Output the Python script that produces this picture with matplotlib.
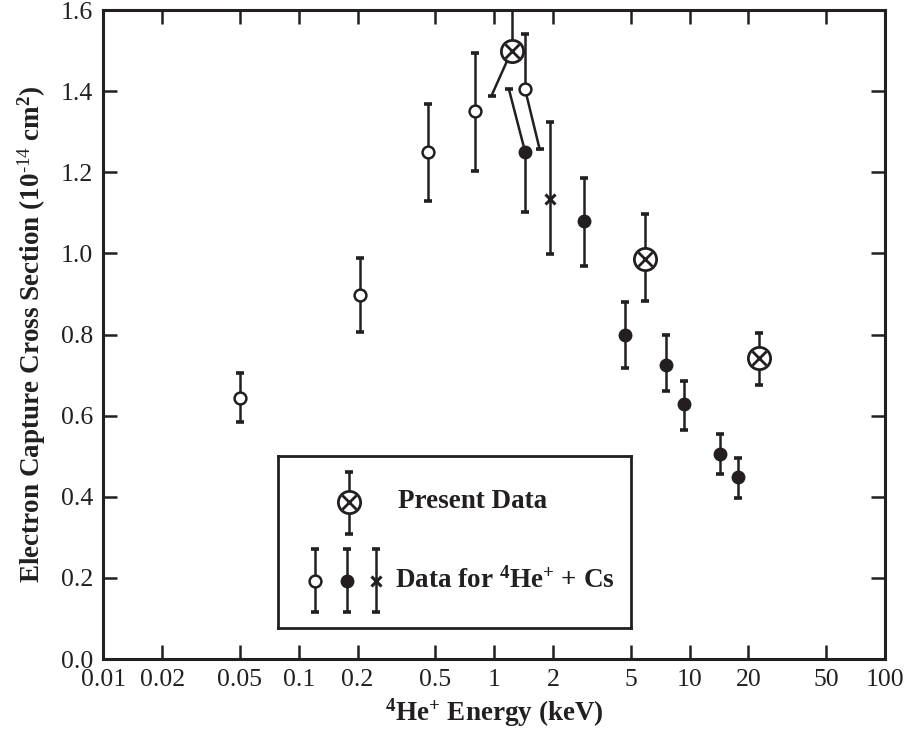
import matplotlib
matplotlib.use('Agg')
import matplotlib.pyplot as plt
from matplotlib.ticker import FixedLocator, NullLocator

plt.rcParams['font.family'] = ['Liberation Serif', 'DejaVu Serif']
plt.rcParams['mathtext.fontset'] = 'custom'
plt.rcParams['mathtext.rm'] = 'Liberation Serif'
plt.rcParams['mathtext.bf'] = 'Liberation Serif:bold'
plt.rcParams['mathtext.default'] = 'bf'

# open circles (4He+ + Cs, other data)
open_x = [0.05, 0.205, 0.46, 0.80, 1.44]
open_y = [0.643, 0.897, 1.251, 1.350, 1.405]
open_lo = [0.585, 0.806, 1.128, 1.202, 1.405]
open_hi = [0.706, 0.988, 1.369, 1.493, 1.542]

# filled circles
filled_x = [1.44, 2.88, 4.7, 7.6, 9.4, 14.3, 17.7]
filled_y = [1.251, 1.081, 0.798, 0.725, 0.628, 0.505, 0.448]
filled_lo = [1.103, 0.970, 0.717, 0.660, 0.565, 0.456, 0.397]
filled_hi = [1.251, 1.187, 0.879, 0.799, 0.686, 0.554, 0.495]

# small crosses
cross_x = [1.93]
cross_y = [1.135]
cross_lo = [0.998]
cross_hi = [1.323]

# present data (crossed circles)
pres_x = [1.23, 5.9, 22.6]
pres_y = [1.500, 0.986, 0.741]
pres_lo = [1.500, 0.882, 0.676]
pres_hi = [1.650, 1.096, 0.805]

# slanted (displaced) error bars: start point -> cap point
slant_x0 = [1.23, 1.44, 1.44]
slant_y0 = [1.500, 1.405, 1.251]
slant_x1 = [0.97, 1.71, 1.19]
slant_y1 = [1.389, 1.257, 1.405]

xticks = [0.01, 0.02, 0.05, 0.1, 0.2, 0.5, 1, 2, 5, 10, 20, 50, 100]
xticklabels = ['0.01', '0.02', '0.05', '0.1', '0.2', '0.5', '1', '2', '5', '10', '20', '50', '100']
yticks = [0.0, 0.2, 0.4, 0.6, 0.8, 1.0, 1.2, 1.4, 1.6]

K = '#231f20'
LW = 1.8

fig = plt.figure(figsize=(9.12, 7.38), dpi=100)
ax = fig.add_axes([0.1133, 0.107, 0.857, 0.8794])


def bars(a, xs, lo, hi):
    for x, l, h in zip(xs, lo, hi):
        if h - l > 0:
            a.plot([x, x], [l, h], color=K, lw=LW, solid_capstyle='butt', zorder=2)
            a.plot([x, x], [l, h], ls='none', marker='_', ms=6, mew=2.6, color=K, zorder=2)


bars(ax, open_x, open_lo, open_hi)
bars(ax, filled_x, filled_lo, filled_hi)
bars(ax, cross_x, cross_lo, cross_hi)
bars(ax, pres_x, pres_lo, pres_hi)
for x0, y0, x1, y1 in zip(slant_x0, slant_y0, slant_x1, slant_y1):
    ax.plot([x0, x1], [y0, y1], color=K, lw=LW, zorder=2)
    ax.plot([x1], [y1], ls='none', marker='_', ms=6, mew=2.6, color=K, zorder=2)

ax.plot(open_x, open_y, ls='none', marker='o', ms=8.5, mfc='white', mec=K, mew=1.8, zorder=4)
ax.plot(filled_x, filled_y, ls='none', marker='o', ms=9, mfc=K, mec=K, zorder=4)
ax.plot(cross_x, cross_y, ls='none', marker='x', ms=7, mew=2.2, color=K, zorder=4)
ax.plot(pres_x, pres_y, ls='none', marker='o', ms=16, mfc='white', mec=K, mew=2.0, zorder=4)
ax.plot(pres_x, pres_y, ls='none', marker='x', ms=10.5, mew=2.0, color=K, zorder=5)

ax.set_xscale('log')
ax.set_xlim(0.01, 100)
ax.set_ylim(0, 1.6)
ax.xaxis.set_major_locator(FixedLocator(xticks))
ax.xaxis.set_minor_locator(NullLocator())
ax.set_xticklabels(xticklabels)
ax.set_yticks(yticks)
ax.set_yticklabels(['%.1f' % v for v in yticks])
ax.tick_params(axis='both', which='major', direction='in', length=10, width=1.8,
               labelsize=18.5, colors=K, top=True, right=True)
ax.tick_params(axis='x', pad=7)
ax.tick_params(axis='y', pad=7.5)
for s in ax.spines.values():
    s.set_linewidth(2.2)
    s.set_color(K)

ax.set_xlabel(r'$^{4}$He$^{+}$ Energy (keV)', fontsize=19.5, fontweight='bold', color=K, labelpad=4)
ax.set_ylabel(r'Electron Capture Cross Section (10$^{\text{-14}}$ cm$^{2}$)', fontsize=19.5,
              fontweight='bold', color=K, labelpad=9)

# legend box
lg = ax.inset_axes([0.2235, 0.0475, 0.4515, 0.265])
lg.set_xlim(0, 1)
lg.set_ylim(0, 1)
lg.set_xticks([])
lg.set_yticks([])
for s in lg.spines.values():
    s.set_linewidth(2.0)
    s.set_color(K)
bars(lg, [0.201], [0.549], [0.907])
lg.plot([0.201], [0.734], ls='none', marker='o', ms=16, mfc='white', mec=K, mew=2.0, zorder=4)
lg.plot([0.201], [0.734], ls='none', marker='x', ms=10.5, mew=2.0, color=K, zorder=5)
bars(lg, [0.105, 0.195, 0.278], [0.092] * 3, [0.462] * 3)
lg.plot([0.105], [0.277], ls='none', marker='o', ms=8.5, mfc='white', mec=K, mew=1.8, zorder=4)
lg.plot([0.195], [0.277], ls='none', marker='o', ms=9, mfc=K, mec=K, zorder=4)
lg.plot([0.278], [0.277], ls='none', marker='x', ms=7, mew=2.2, color=K, zorder=4)
lg.text(0.34, 0.734, 'Present Data', fontsize=19.5, fontweight='bold', color=K, va='center')
lg.text(0.331, 0.277, r'Data for $^{4}$He$^{+}$ + Cs', fontsize=19.5, fontweight='bold',
        color=K, va='center')

fig.savefig('out.png', dpi=100)
